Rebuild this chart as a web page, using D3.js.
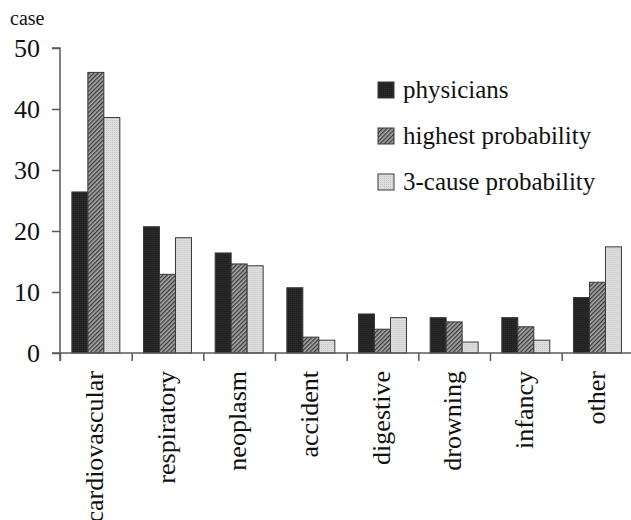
<!DOCTYPE html>
<html>
<head>
<meta charset="utf-8">
<script src="https://cdn.jsdelivr.net/npm/d3@7"></script>
<style>
  html, body { margin: 0; padding: 0; background: #fff; }
  svg { display: block; }
  svg text { font-family: "Liberation Serif", "Times New Roman", Times, "DejaVu Serif", serif !important; fill: #111; }
</style>
</head>
<body>
<svg id="chart" width="631" height="520"></svg>
<script>
const categories = ["cardiovascular", "respiratory", "neoplasm", "accident", "digestive", "drowning", "infancy", "other"];
const seriesNames = ["physicians", "highest probability", "3-cause probability"];
const physicians = [26.4, 20.7, 16.4, 10.7, 6.4, 5.8, 5.8, 9.1];
const highestProbability = [46.0, 12.9, 14.6, 2.6, 3.9, 5.1, 4.3, 11.6];
const threeCauseProbability = [38.6, 18.9, 14.3, 2.1, 5.8, 1.8, 2.1, 17.4];
const yTicks = [0, 10, 20, 30, 40, 50];
const yLabel = "case";

const seriesValues = [physicians, highestProbability, threeCauseProbability];
const FONT = "'Liberation Serif', 'Times New Roman', Times, 'DejaVu Serif', serif";

const svg = d3.select("#chart").attr("font-family", FONT);
const defs = svg.append("defs");

// hatch pattern
const hatch = defs.append("pattern")
  .attr("id", "hatch").attr("patternUnits", "userSpaceOnUse")
  .attr("width", 3).attr("height", 3)
  .attr("patternTransform", "rotate(45)");
hatch.append("rect").attr("width", 3).attr("height", 3).attr("fill", "#a8a8a8");
hatch.append("rect").attr("width", 1.3).attr("height", 3).attr("fill", "#3a3a3a");

// light dotted pattern
const dots = defs.append("pattern")
  .attr("id", "light").attr("patternUnits", "userSpaceOnUse")
  .attr("width", 2).attr("height", 2);
dots.append("rect").attr("width", 2).attr("height", 2).attr("fill", "#dedede");
dots.append("rect").attr("width", 1).attr("height", 1).attr("fill", "#c9c9c9");

// dark pattern
const dark = defs.append("pattern")
  .attr("id", "dark").attr("patternUnits", "userSpaceOnUse")
  .attr("width", 2).attr("height", 2);
dark.append("rect").attr("width", 2).attr("height", 2).attr("fill", "#222");
dark.append("rect").attr("width", 1).attr("height", 1).attr("fill", "#2e2e2e");

const fills = ["url(#dark)", "url(#hatch)", "url(#light)"];

const x0 = d3.scaleBand().domain(categories).range([60, 633.3]).padding(0);
const x1 = d3.scaleBand().domain(seriesNames).range([0, x0.bandwidth()]).paddingInner(0).paddingOuter(0.74);
const y = d3.scaleLinear().domain([0, 50]).range([353, 48]);

const axisColor = "#5a5a5a";

// bars
const groups = svg.append("g").selectAll("g")
  .data(categories)
  .join("g")
  .attr("transform", d => `translate(${x0(d)},0)`);

groups.selectAll("rect")
  .data((c, i) => seriesNames.map((s, k) => ({ s, k, v: seriesValues[k][i] })))
  .join("rect")
  .attr("x", d => x1(d.s))
  .attr("y", d => y(d.v))
  .attr("width", x1.bandwidth())
  .attr("height", d => y(0) - y(d.v))
  .attr("fill", d => fills[d.k])
  .attr("stroke", "#3a3a3a")
  .attr("stroke-width", 1);

// y axis
const yAxis = svg.append("g")
  .attr("transform", "translate(60,0)")
  .call(d3.axisLeft(y).tickValues(yTicks).tickSize(8).tickPadding(12).tickFormat(d3.format("d")));
yAxis.attr("font-family", FONT);
yAxis.select(".domain").attr("stroke", axisColor).attr("stroke-width", 1.5).attr("d", `M-8,${y(50)}H0V${y(0) + 8}`);
yAxis.selectAll(".tick line").attr("stroke", axisColor).attr("stroke-width", 1.5);
yAxis.selectAll(".tick text").attr("font-size", 26).attr("fill", "#111").attr("dy", "0.34em");

// x axis (band boundaries)
const xb = d3.scaleLinear().domain([0, categories.length]).range([60, 633.3]);
const xAxis = svg.append("g")
  .attr("transform", `translate(0,${y(0)})`)
  .call(d3.axisBottom(xb).tickValues(d3.range(categories.length + 1)).tickSize(8).tickFormat(""));
xAxis.select(".domain").attr("stroke", axisColor).attr("stroke-width", 1.5).attr("d", `M52,0H633`);
xAxis.selectAll(".tick line").attr("stroke", axisColor).attr("stroke-width", 1.5);

// x labels
svg.append("g").selectAll("text")
  .data(categories)
  .join("text")
  .attr("transform", d => `translate(${x0(d) + x0.bandwidth() / 2},371) rotate(-90)`)
  .attr("text-anchor", "end")
  .attr("dy", "0.27em")
  .attr("font-size", 26)
  .text(d => d);

// y label
svg.append("text").attr("x", 10).attr("y", 25).attr("font-size", 20).text(yLabel);

// legend
const legend = svg.append("g").selectAll("g")
  .data(seriesNames)
  .join("g")
  .attr("transform", (d, i) => `translate(378,${82 + i * 46})`);
legend.append("rect")
  .attr("width", 16).attr("height", 16)
  .attr("fill", (d, i) => fills[i])
  .attr("stroke", "#3a3a3a").attr("stroke-width", 1);
legend.append("text")
  .attr("x", 25).attr("y", 16)
  .attr("font-size", 25)
  .text(d => d);
</script>
</body>
</html>
